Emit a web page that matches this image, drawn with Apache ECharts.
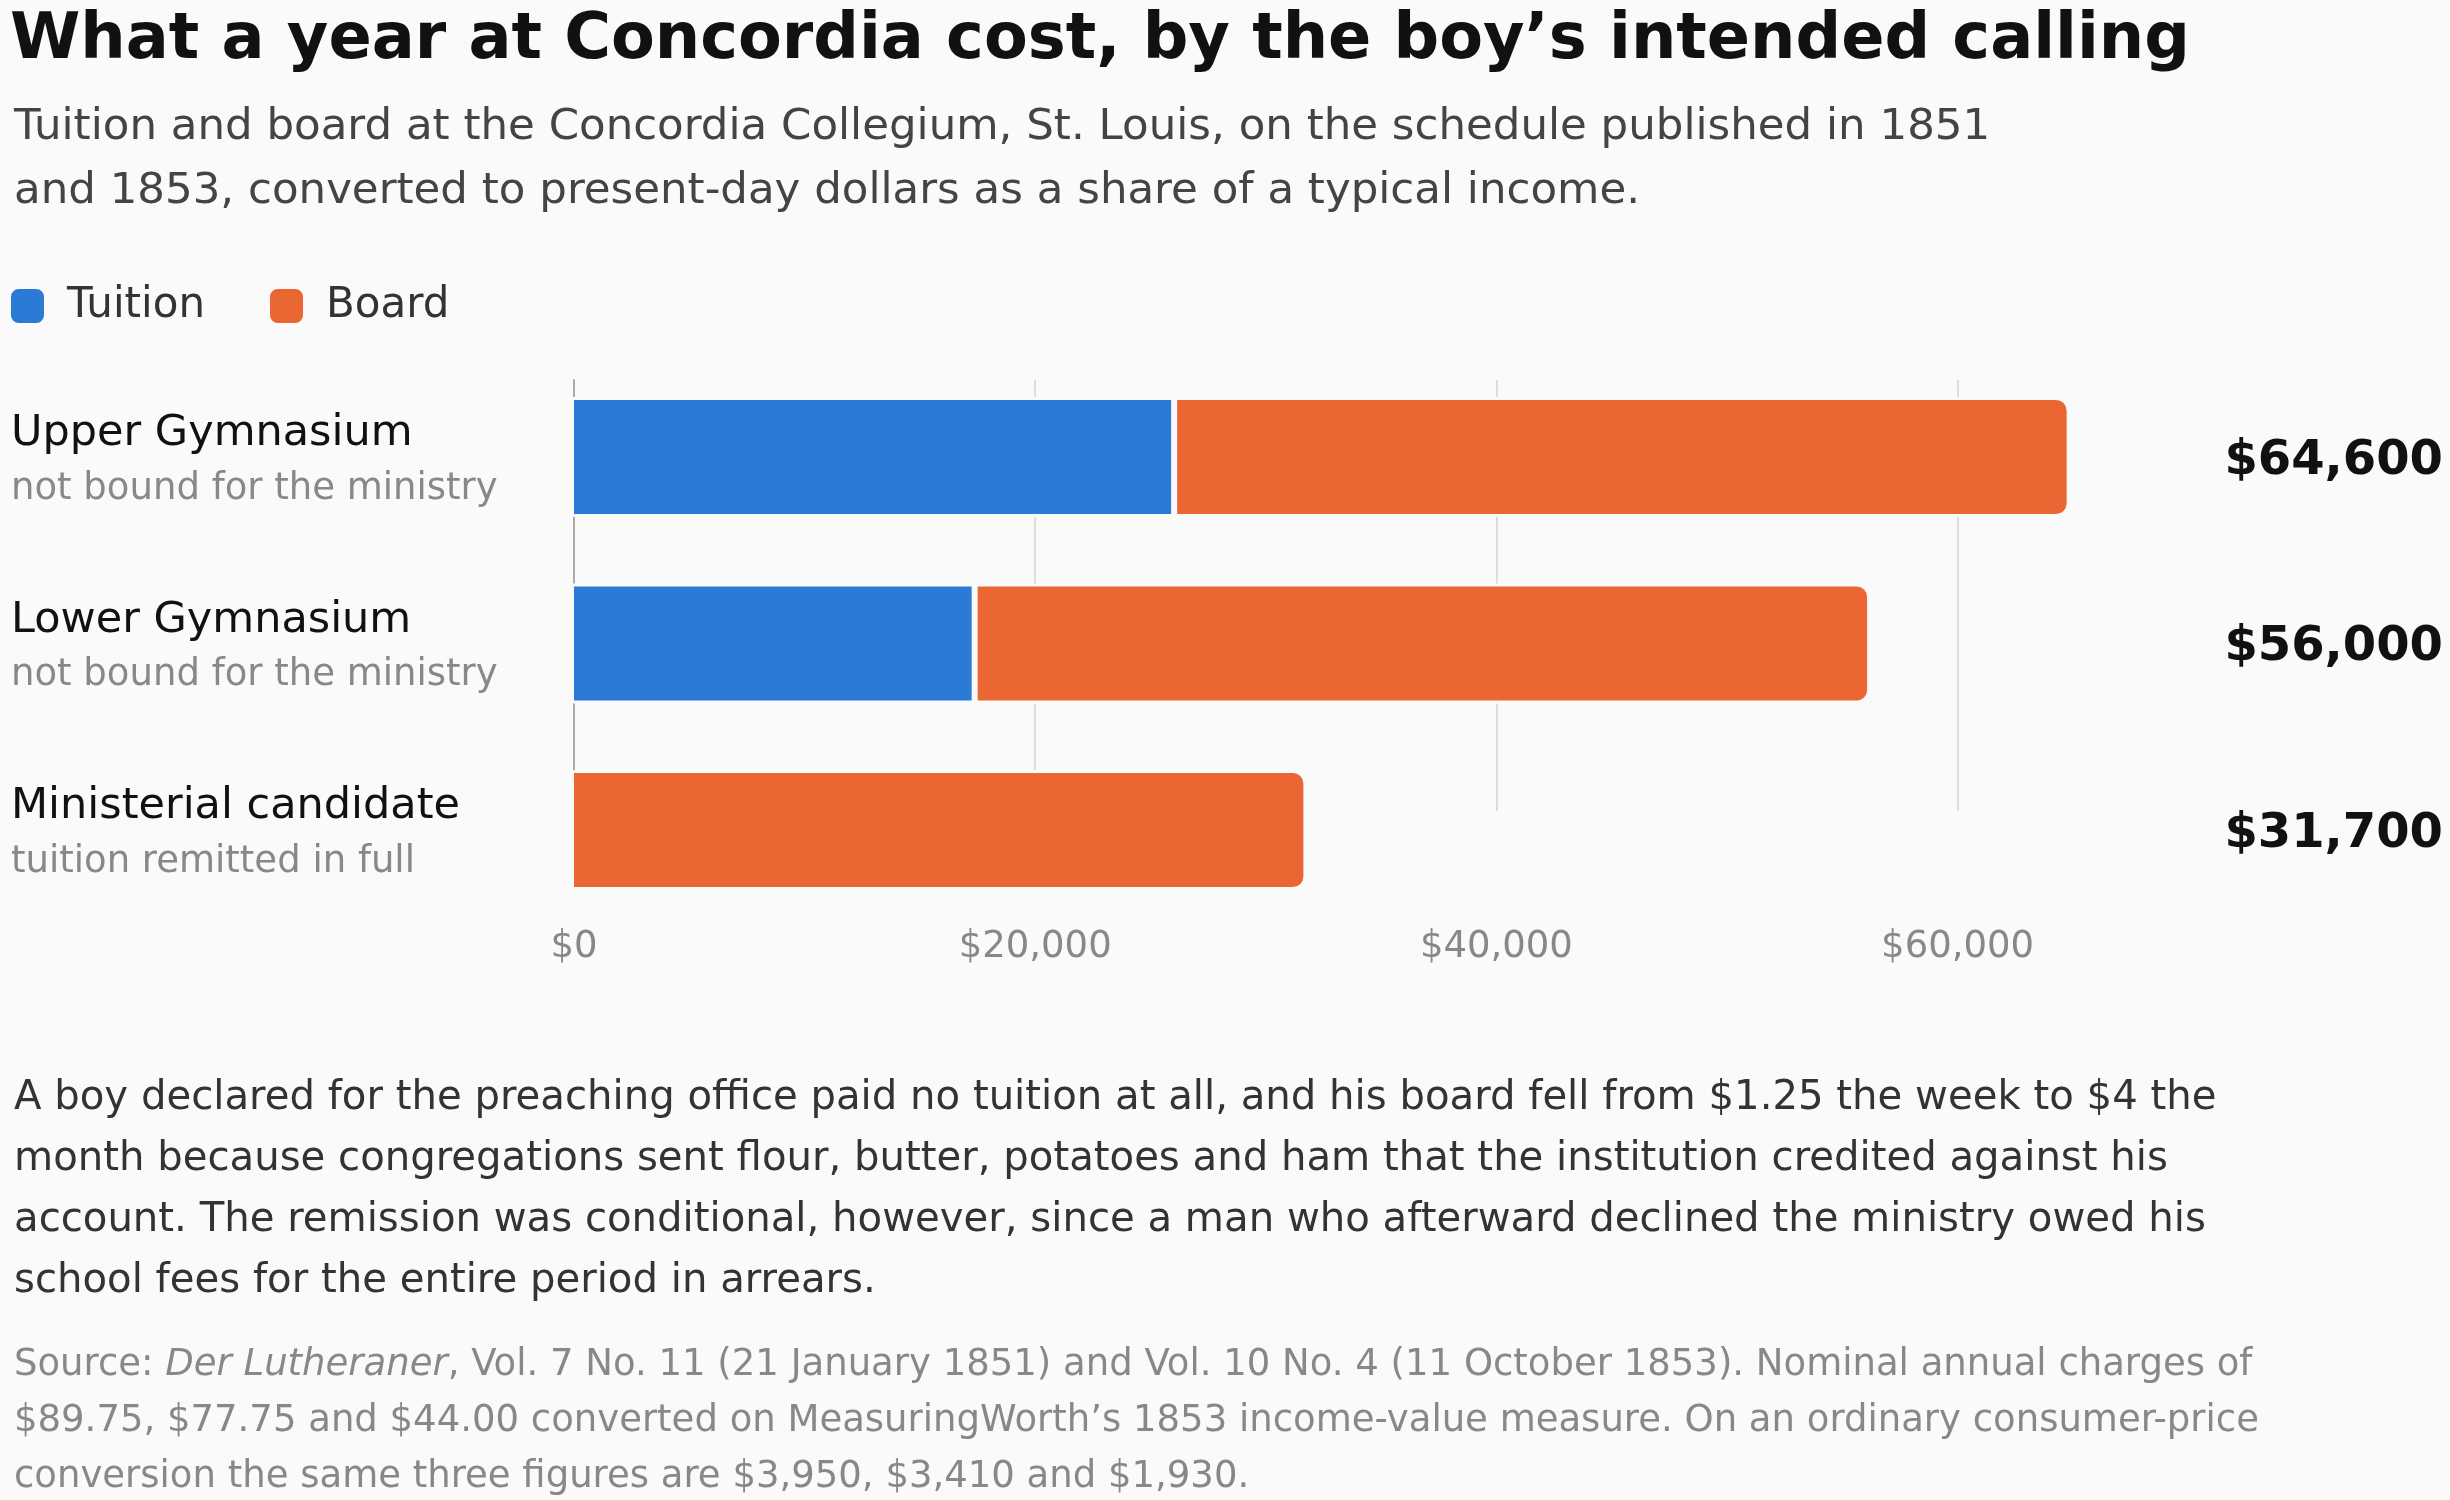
<!DOCTYPE html>
<html>
<head>
<meta charset="utf-8">
<script src="https://cdn.jsdelivr.net/npm/echarts@6/dist/echarts.min.js"></script>
<style>
html,body{margin:0;padding:0;background:#fafafa;}
#chart{width:2450px;height:1500px;}
</style>
</head>
<body>
<div id="chart"></div>
<script>
// ---- data ----
const categories = ['Upper Gymnasium', 'Lower Gymnasium', 'Ministerial candidate'];
const subLabels = ['not bound for the ministry', 'not bound for the ministry', 'tuition remitted in full'];
const tuition = [26000, 17400, 0];
const board = [38600, 38600, 31700];
const xTicks = [0, 20000, 40000, 60000];
const seriesNames = ['Tuition', 'Board'];

const titleText = 'What a year at Concordia cost, by the boy\u2019s intended calling';
const subtitleLines = [
  'Tuition and board at the Concordia Collegium, St. Louis, on the schedule published in 1851',
  'and 1853, converted to present-day dollars as a share of a typical income.'
];
const bodyLines = [
  'A boy declared for the preaching office paid no tuition at all, and his board fell from $1.25 the week to $4 the',
  'month because congregations sent flour, butter, potatoes and ham that the institution credited against his',
  'account. The remission was conditional, however, since a man who afterward declined the ministry owed his',
  'school fees for the entire period in arrears.'
];
const sourceLines = [
  'Source: {i|Der Lutheraner}, Vol. 7 No. 11 (21 January 1851) and Vol. 10 No. 4 (11 October 1853). Nominal annual charges of',
  '$89.75, $77.75 and $44.00 converted on MeasuringWorth\u2019s 1853 income-value measure. On an ordinary consumer-price',
  'conversion the same three figures are $3,950, $3,410 and $1,930.'
];

const totals = tuition.map((t, i) => t + board[i]);
const fmt = v => '$' + v.toLocaleString('en-US');

const FONT = 'DejaVu Sans';
const BLUE = '#2a7ad6';
const ORANGE = '#ea6734';
const BG = '#fafafa';

const AXIS_LEFT = 574;
const PX_PER_20K = 461.2;
const MAIN_MAX = 65000;
const GRID_MAX = 60000;
const MAIN_LEFT = AXIS_LEFT - 3;
const MAIN_WIDTH = MAIN_MAX / 20000 * PX_PER_20K + 9;

const chart = echarts.init(document.getElementById('chart'));
chart.setOption({
  backgroundColor: BG,
  textStyle: { fontFamily: FONT },
  animation: false,
  title: [
    { text: titleText, left: 10, top: 5, padding: 0,
      textStyle: { fontFamily: FONT, fontSize: 63.8, fontWeight: 'bold', color: '#111', lineHeight: 72 } },
    { text: subtitleLines.join('\n'), left: 9, top: 91,
      textStyle: { fontFamily: FONT, fontSize: 43.5, fontWeight: 'normal', color: '#444', lineHeight: 64 } },
    { text: bodyLines.join('\n'), left: 9, top: 1063,
      textStyle: { fontFamily: FONT, fontSize: 40.2, fontWeight: 'normal', color: '#333', lineHeight: 61 } },
    { text: sourceLines.join('\n'), left: 9, top: 1332,
      textStyle: { fontFamily: FONT, fontSize: 37, fontWeight: 'normal', color: '#888', lineHeight: 56.3,
        rich: { i: { fontFamily: FONT, fontSize: 37, fontStyle: 'italic', color: '#888', lineHeight: 56.3 } } } }
  ],
  legend: {
    left: 9, top: 284, padding: 0,
    icon: 'roundRect', itemWidth: 35, itemHeight: 36, itemGap: 63,
    textStyle: { fontFamily: FONT, fontSize: 42, color: '#333', lineHeight: 36, padding: [0, 0, 8, 17] },
    data: seriesNames
  },
  grid: [
    { left: MAIN_LEFT, top: 363.75, width: MAIN_WIDTH, height: 559.5 },
    { left: AXIS_LEFT, top: 380, width: GRID_MAX / 20000 * PX_PER_20K, height: 431 }
  ],
  xAxis: [
    { gridIndex: 0, type: 'value', min: 0, max: MAIN_MAX, show: false },
    { gridIndex: 1, type: 'value', min: 0, max: GRID_MAX, interval: xTicks[1] - xTicks[0],
      axisLine: { show: false }, axisTick: { show: false },
      splitLine: { show: true, lineStyle: { color: '#dddddd', width: 2 } },
      axisLabel: { margin: 116, fontFamily: FONT, fontSize: 37, color: '#888', lineHeight: 40,
        formatter: v => fmt(v) } }
  ],
  yAxis: [
    { gridIndex: 0, type: 'category', data: categories, inverse: true,
      axisLine: { show: false }, axisTick: { show: false },
      axisLabel: {
        align: 'left', margin: MAIN_LEFT - 11,
        formatter: (v, i) => '{a|' + v + '}\n{b|' + subLabels[i] + '}',
        rich: {
          a: { fontFamily: FONT, fontSize: 43, color: '#111', lineHeight: 64, align: 'left' },
          b: { fontFamily: FONT, fontSize: 37, color: '#888', lineHeight: 46, align: 'left' }
        }
      } },
    { gridIndex: 0, type: 'category', data: totals.map(fmt), inverse: true, position: 'right',
      axisLine: { show: false }, axisTick: { show: false },
      axisLabel: { align: 'right', verticalAlign: 'top', lineHeight: 9,
        margin: 2443 - (MAIN_LEFT + MAIN_WIDTH),
        fontFamily: FONT, fontSize: 48, fontWeight: 'bold', color: '#111' } },
    { gridIndex: 1, type: 'category', data: [''],
      axisLine: { show: true, lineStyle: { color: '#aaaaaa', width: 2 } },
      axisTick: { show: false }, axisLabel: { show: false }, splitLine: { show: false } }
  ],
  series: [
    { name: seriesNames[0], type: 'bar', stack: 'cost', xAxisIndex: 0, yAxisIndex: 0,
      data: tuition.map(v => (v === 0 ? '-' : v)), barWidth: 120,
      itemStyle: { color: BLUE, borderColor: BG, borderWidth: 3 } },
    { name: seriesNames[1], type: 'bar', stack: 'cost', xAxisIndex: 0, yAxisIndex: 0,
      data: board, barWidth: 120,
      itemStyle: { color: ORANGE, borderColor: BG, borderWidth: 3, borderRadius: [0, 12, 12, 0] } }
  ]
});
</script>
</body>
</html>
